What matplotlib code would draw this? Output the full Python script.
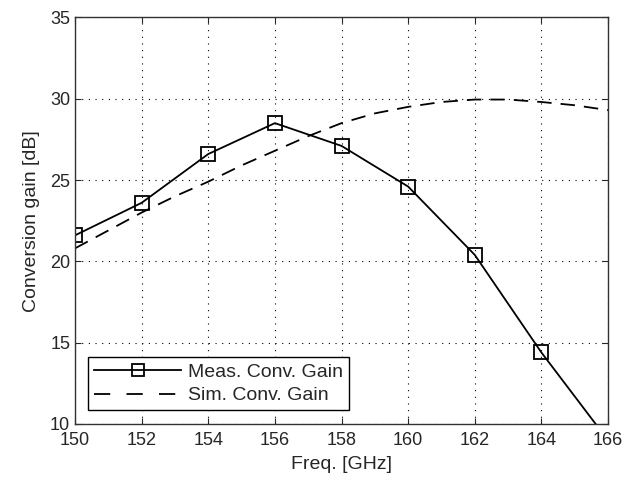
import matplotlib
matplotlib.use("Agg")
import matplotlib.pyplot as plt

freq_meas = [150, 152, 154, 156, 158, 160, 162, 164, 166]
gain_meas = [21.6, 23.6, 26.6, 28.5, 27.1, 24.6, 20.4, 14.4, 9.0]

freq_sim = [150, 151, 152, 153, 154, 155, 156, 157, 158, 159, 160, 161, 162, 163, 164, 165, 166]
gain_sim = [20.8, 21.9, 23.0, 24.0, 24.9, 25.9, 26.8, 27.7, 28.5, 29.1, 29.5, 29.8, 29.95, 29.95, 29.8, 29.6, 29.3]

xticks = [150, 152, 154, 156, 158, 160, 162, 164, 166]
yticks = [10, 15, 20, 25, 30, 35]

plt.rcParams['font.family'] = ['Liberation Sans', 'DejaVu Sans']
tc = '#262626'

fig = plt.figure(figsize=(6.33, 4.8), dpi=100)
ax = fig.add_axes([0.1185, 0.1167, 0.842, 0.847])

ax.plot(freq_meas, gain_meas, '-', color='black', lw=1.3, marker='s', ms=10,
        mfc='none', mec='black', mew=1.3, label='Meas. Conv. Gain')
ax.plot(freq_sim, gain_sim, color='black', lw=1.3, dashes=(8, 5), label='Sim. Conv. Gain')

ax.set_xlim(150, 166)
ax.set_ylim(10, 35)
ax.set_xticks(xticks)
ax.set_yticks(yticks)
ax.grid(True, color='black', linestyle=(0, (1, 5)), linewidth=0.8)
ax.tick_params(direction='in', length=4, labelsize=13, colors=tc, top=True, right=True,
               labeltop=False, labelright=False)
ax.tick_params(axis='x', pad=6)
for s in ax.spines.values():
    s.set_linewidth(1.0)
    s.set_color('#333333')

ax.set_xlabel('Freq. [GHz]', fontsize=14, color=tc, labelpad=5)
ax.set_ylabel('Conversion gain [dB]', fontsize=14, color=tc, labelpad=7)

leg = ax.legend(loc='lower left', bbox_to_anchor=(0.0244, 0.034), fontsize=14, handlelength=4.5,
                frameon=True, fancybox=False, framealpha=1, edgecolor='black',
                borderpad=0.3, labelspacing=0.3, handletextpad=0.36, borderaxespad=0,
                markerscale=0.9)
leg.get_frame().set_linewidth(1.0)
for t in leg.get_texts():
    t.set_color(tc)
leg.get_lines()[1].set_dashes((9, 9))

fig.savefig('out.png', dpi=100)
